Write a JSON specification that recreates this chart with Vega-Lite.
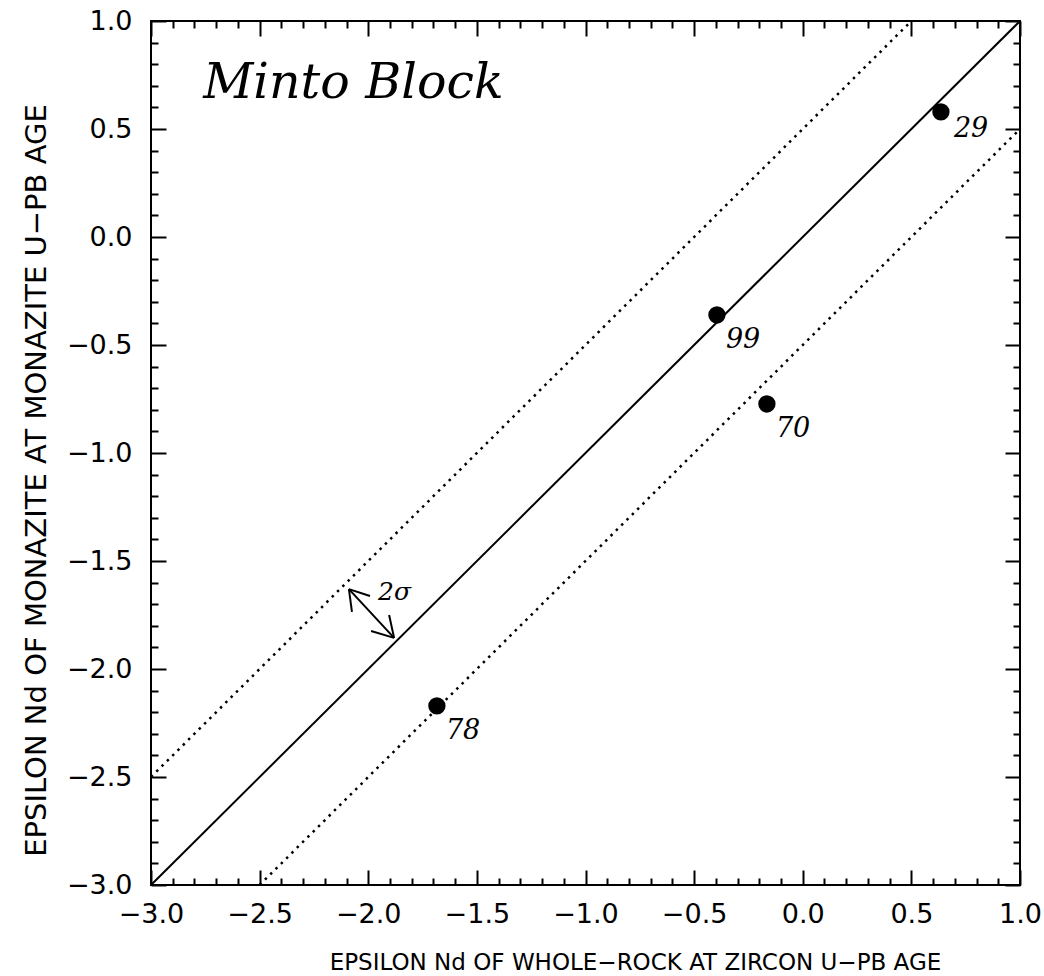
{
  "$schema": "https://vega.github.io/schema/vega-lite/v6.json",
  "autosize": {"type": "none"},
  "padding": {"left": 151, "top": 21, "right": 24, "bottom": 91},
  "width": 869,
  "height": 864,
  "background": "white",
  "config": {
    "view": {"stroke": "black", "strokeWidth": 2},
    "axis": {"grid": false, "domain": false, "tickColor": "black", "tickWidth": 2, "labelColor": "black", "titleColor": "black", "labelFlush": false, "labelOverlap": false}
  },
  "datasets": {
    "fit": [
      {"line": "1:1", "x": -3, "y": -3},
      {"line": "1:1", "x": 1, "y": 1}
    ],
    "bounds": [
      {"line": "upper", "x": -3, "y": -2.5},
      {"line": "upper", "x": 0.5, "y": 1},
      {"line": "lower", "x": -2.5, "y": -3},
      {"line": "lower", "x": 1, "y": 0.5}
    ],
    "samples": [
      {"sample": "29", "x": 0.636, "y": 0.579},
      {"sample": "99", "x": -0.395, "y": -0.361},
      {"sample": "70", "x": -0.165, "y": -0.773},
      {"sample": "78", "x": -1.684, "y": -2.171}
    ],
    "arrow": [
      {"seg": "shaft", "x": -2.089, "y": -1.63},
      {"seg": "shaft", "x": -1.881, "y": -1.856},
      {"seg": "h1", "x": -2.089, "y": -1.63},
      {"seg": "h1", "x": -1.992, "y": -1.662},
      {"seg": "h2", "x": -2.089, "y": -1.63},
      {"seg": "h2", "x": -2.075, "y": -1.736},
      {"seg": "h3", "x": -1.881, "y": -1.856},
      {"seg": "h3", "x": -1.987, "y": -1.824},
      {"seg": "h4", "x": -1.881, "y": -1.856},
      {"seg": "h4", "x": -1.904, "y": -1.75}
    ],
    "notes": [
      {"text": "Minto Block", "x": -2.76, "y": 0.644}
    ],
    "sigma": [
      {"text": "2σ", "x": -1.955, "y": -1.644}
    ]
  },
  "layer": [
    {
      "data": {"name": "fit"},
      "mark": {"type": "line", "color": "black", "strokeWidth": 2},
      "encoding": {
        "x": {"field": "x", "type": "quantitative", "scale": {"domain": [-3, 1], "nice": false, "zero": false},
          "axis": {"orient": "bottom", "values": [-3, -2.5, -2, -1.5, -1, -0.5, 0, 0.5, 1], "format": ".1f", "ticks": false, "labelPadding": 16, "labelFont": "DejaVu Sans", "labelFontSize": 27, "title": "EPSILON Nd OF WHOLE−ROCK AT ZIRCON U−PB AGE", "titleFont": "DejaVu Sans", "titleFontSize": 23, "titleFontWeight": "normal", "titlePadding": 24, "titleX": 484}},
        "y": {"field": "y", "type": "quantitative", "scale": {"domain": [-3, 1], "nice": false, "zero": false},
          "axis": {"orient": "left", "values": [-3, -2.5, -2, -1.5, -1, -0.5, 0, 0.5, 1], "format": ".1f", "ticks": false, "labelPadding": 19, "labelFont": "DejaVu Sans", "labelFontSize": 27, "title": "EPSILON Nd OF MONAZITE AT MONAZITE U−PB AGE", "titleFont": "DejaVu Sans", "titleFontSize": 29, "titleFontWeight": "normal", "titlePadding": 15, "titleY": 459}},
        "detail": {"field": "line"}
      }
    },
    {
      "data": {"name": "bounds"},
      "mark": {"type": "line", "color": "black", "strokeWidth": 2.5, "strokeDash": [2.5, 5]},
      "encoding": {
        "x": {"field": "x", "type": "quantitative", "scale": {"domain": [-3, 1], "nice": false, "zero": false},
          "axis": {"orient": "bottom", "values": [-3, -2.5, -2, -1.5, -1, -0.5, 0, 0.5, 1], "labels": false, "tickSize": -15, "title": null}},
        "y": {"field": "y", "type": "quantitative", "scale": {"domain": [-3, 1], "nice": false, "zero": false},
          "axis": {"orient": "left", "values": [-3, -2.5, -2, -1.5, -1, -0.5, 0, 0.5, 1], "labels": false, "tickSize": -15, "title": null}},
        "detail": {"field": "line"}
      }
    },
    {
      "data": {"name": "samples"},
      "mark": {"type": "point", "shape": "circle", "filled": true, "color": "black", "size": 300, "opacity": 1},
      "encoding": {
        "x": {"field": "x", "type": "quantitative", "scale": {"domain": [-3, 1], "nice": false, "zero": false},
          "axis": {"orient": "bottom", "values": [-2.9, -2.8, -2.7, -2.6, -2.4, -2.3, -2.2, -2.1, -1.9, -1.8, -1.7, -1.6, -1.4, -1.3, -1.2, -1.1, -0.9, -0.8, -0.7, -0.6, -0.4, -0.3, -0.2, -0.1, 0.1, 0.2, 0.3, 0.4, 0.6, 0.7, 0.8, 0.9], "labels": false, "tickSize": -7, "title": null}},
        "y": {"field": "y", "type": "quantitative", "scale": {"domain": [-3, 1], "nice": false, "zero": false},
          "axis": {"orient": "left", "values": [-2.9, -2.8, -2.7, -2.6, -2.4, -2.3, -2.2, -2.1, -1.9, -1.8, -1.7, -1.6, -1.4, -1.3, -1.2, -1.1, -0.9, -0.8, -0.7, -0.6, -0.4, -0.3, -0.2, -0.1, 0.1, 0.2, 0.3, 0.4, 0.6, 0.7, 0.8, 0.9], "labels": false, "tickSize": -7, "title": null}}
      }
    },
    {
      "data": {"name": "samples"},
      "transform": [{"filter": "datum.sample != '29'"}],
      "mark": {"type": "text", "align": "left", "baseline": "middle", "dx": 9, "dy": 25, "font": "DejaVu Serif", "fontStyle": "italic", "fontSize": 27, "color": "black"},
      "encoding": {
        "x": {"field": "x", "type": "quantitative", "scale": {"domain": [-3, 1], "nice": false, "zero": false},
          "axis": {"orient": "top", "values": [-3, -2.5, -2, -1.5, -1, -0.5, 0, 0.5, 1], "labels": false, "tickSize": -15, "title": null}},
        "y": {"field": "y", "type": "quantitative", "scale": {"domain": [-3, 1], "nice": false, "zero": false},
          "axis": {"orient": "right", "values": [-3, -2.5, -2, -1.5, -1, -0.5, 0, 0.5, 1], "labels": false, "tickSize": -15, "title": null}},
        "text": {"field": "sample"}
      }
    },
    {
      "data": {"name": "samples"},
      "transform": [{"filter": "datum.sample == '29'"}],
      "mark": {"type": "text", "align": "left", "baseline": "middle", "dx": 13, "dy": 17, "font": "DejaVu Serif", "fontStyle": "italic", "fontSize": 27, "color": "black"},
      "encoding": {
        "x": {"field": "x", "type": "quantitative", "scale": {"domain": [-3, 1], "nice": false, "zero": false}, "axis": null},
        "y": {"field": "y", "type": "quantitative", "scale": {"domain": [-3, 1], "nice": false, "zero": false}, "axis": null},
        "text": {"field": "sample"}
      }
    },
    {
      "data": {"name": "arrow"},
      "mark": {"type": "line", "color": "black", "strokeWidth": 2},
      "encoding": {
        "x": {"field": "x", "type": "quantitative", "scale": {"domain": [-3, 1], "nice": false, "zero": false},
          "axis": {"orient": "top", "values": [-2.9, -2.8, -2.7, -2.6, -2.4, -2.3, -2.2, -2.1, -1.9, -1.8, -1.7, -1.6, -1.4, -1.3, -1.2, -1.1, -0.9, -0.8, -0.7, -0.6, -0.4, -0.3, -0.2, -0.1, 0.1, 0.2, 0.3, 0.4, 0.6, 0.7, 0.8, 0.9], "labels": false, "tickSize": -7, "title": null}},
        "y": {"field": "y", "type": "quantitative", "scale": {"domain": [-3, 1], "nice": false, "zero": false},
          "axis": {"orient": "right", "values": [-2.9, -2.8, -2.7, -2.6, -2.4, -2.3, -2.2, -2.1, -1.9, -1.8, -1.7, -1.6, -1.4, -1.3, -1.2, -1.1, -0.9, -0.8, -0.7, -0.6, -0.4, -0.3, -0.2, -0.1, 0.1, 0.2, 0.3, 0.4, 0.6, 0.7, 0.8, 0.9], "labels": false, "tickSize": -7, "title": null}},
        "detail": {"field": "seg"}
      }
    },
    {
      "data": {"name": "notes"},
      "mark": {"type": "text", "align": "left", "baseline": "alphabetic", "font": "DejaVu Serif", "fontStyle": "italic", "fontSize": 49, "color": "black"},
      "encoding": {
        "x": {"field": "x", "type": "quantitative", "scale": {"domain": [-3, 1], "nice": false, "zero": false}, "axis": null},
        "y": {"field": "y", "type": "quantitative", "scale": {"domain": [-3, 1], "nice": false, "zero": false}, "axis": null},
        "text": {"field": "text"}
      }
    },
    {
      "data": {"name": "sigma"},
      "mark": {"type": "text", "align": "left", "baseline": "middle", "font": "DejaVu Serif", "fontStyle": "italic", "fontSize": 25, "color": "black"},
      "encoding": {
        "x": {"field": "x", "type": "quantitative", "scale": {"domain": [-3, 1], "nice": false, "zero": false}, "axis": null},
        "y": {"field": "y", "type": "quantitative", "scale": {"domain": [-3, 1], "nice": false, "zero": false}, "axis": null},
        "text": {"field": "text"}
      }
    }
  ],
  "resolve": {"axis": {"x": "independent", "y": "independent"}}
}
